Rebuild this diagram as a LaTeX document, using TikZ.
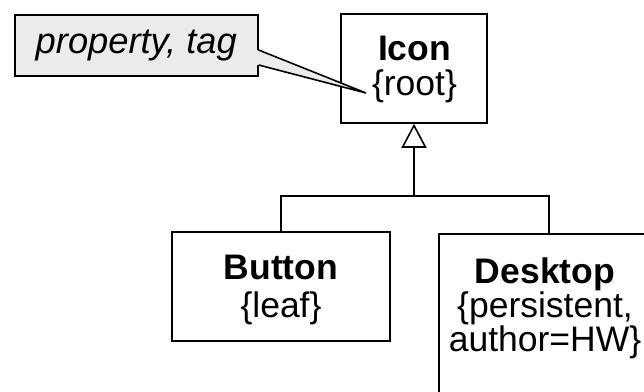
\documentclass[tikz,border=0pt]{standalone}
\usepackage{fontspec}
\setmainfont{Liberation Sans}
\usetikzlibrary{arrows.meta,calc}
\definecolor{notegray}{HTML}{EBEBEB}
\begin{document}
\begin{tikzpicture}[x=1pt,y=-1pt,
  every node/.style={text=black},
  classbox/.style={draw=black, line width=1.6pt, fill=white, inner sep=0pt},
  classtext/.style={anchor=north, inner sep=0pt, align=center,
    font=\fontsize{35.5}{#1}\selectfont},
  conn/.style={draw=black, line width=1.6pt},
  gen/.style={-{Triangle[open,length=24pt,width=25pt,fill=white]}}
]
\useasboundingbox (0,0) rectangle (644,391);
\clip (0,0) rectangle (644,391);

% classes
\node[classbox, minimum width=146pt, minimum height=109pt] (icon) at (414,68.5) {};
\node[classtext=35] (iconlbl) at (414.5,35.5) {\textbf{Icon}\\\{root\}};

\node[classbox, minimum width=218pt, minimum height=109pt] (button) at (281,286.5) {};
\node[classtext=38] (buttonlbl) at (281,254.5) {\textbf{Button}\\\{leaf\}};

\node[classbox, minimum width=220pt, minimum height=200pt, anchor=north west] (desk) at (438,233) {};
\node[classtext=31] (desklbl) at (545,257.5) {\textbf{Desktop}\\\{persistent,\\author=HW\}};

% generalization
\coordinate (join) at (414,196);
\draw[conn] (button.north) |- (join) -| (desk.north);
\draw[conn, gen] (join) -- (icon.south);

% property note with pointer
\node[draw=black, line width=1.6pt, fill=notegray, minimum width=243pt, minimum height=61pt,
  inner sep=0pt, anchor=north west, font=\fontsize{36.3}{38}\selectfont\itshape]
  (note) at (14,14) {property, tag};
\coordinate (tip) at (366,93);
\coordinate (pa) at ($(note.north east)+(0,36)$);
\coordinate (pb) at ($(note.north east)+(0,51)$);
\fill[notegray] ($(pa)+(-1.5,0)$) -- (tip) -- ($(pb)+(-1.5,0)$) -- cycle;
\draw[conn, line join=miter] (pa) -- (tip) -- (pb);
\end{tikzpicture}
\end{document}
